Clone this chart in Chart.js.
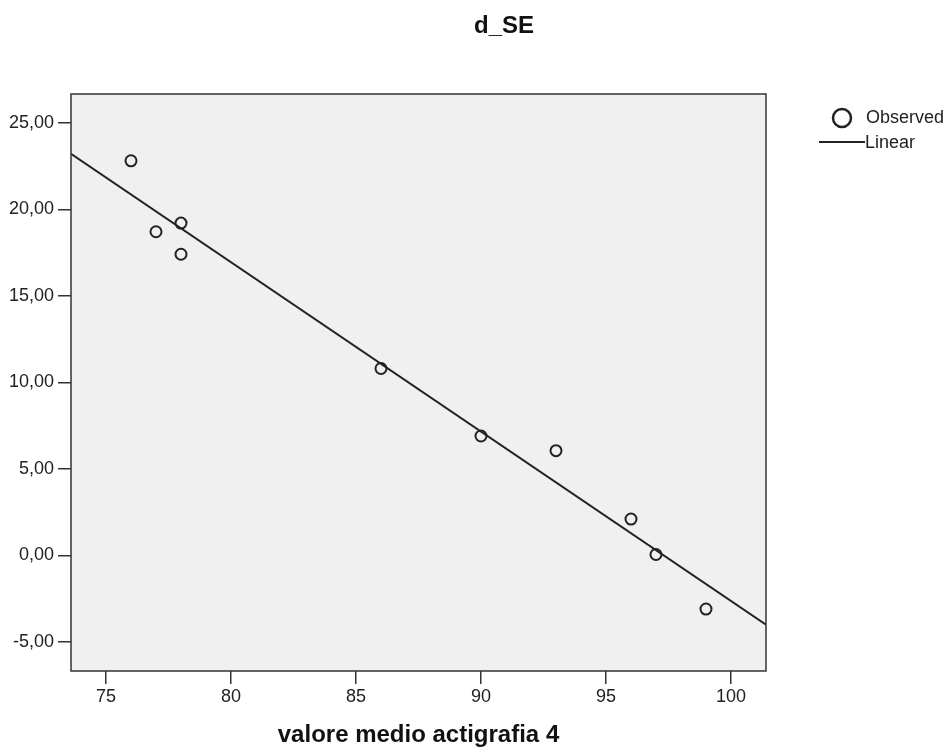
<!DOCTYPE html>
<html>
<head>
<meta charset="utf-8">
<script src="https://cdn.jsdelivr.net/npm/chart.js@4.4.0/dist/chart.umd.min.js"></script>
<style>
html,body{margin:0;padding:0;background:#fff;}
canvas{display:block;}
</style>
</head>
<body>
<canvas id="c" width="950" height="747"></canvas>
<script>
const chartTitle = "d_SE";
const xAxisTitle = "valore medio actigrafia 4";
const legendLabels = ["Observed", "Linear"];
const obsX = [76, 77, 78, 78, 86, 90, 93, 96, 97, 99];
const obsY = [22.8, 18.7, 19.2, 17.4, 10.8, 6.9, 6.05, 2.1, 0.05, -3.1];
const fitX = [73.6, 101.4];
const fitY = [23.2, -4.0];
const xTicks = [75, 80, 85, 90, 95, 100];
const yTicks = [-5, 0, 5, 10, 15, 20, 25];
const xRange = [73.6, 101.4];
const yRange = [-6.68, 26.66];

const FONT = '"Liberation Sans", Arial, sans-serif';
const INK = '#222';

const decor = {
  id: 'decor',
  beforeDraw(chart) {
    const {ctx, chartArea: a} = chart;
    ctx.save();
    ctx.fillStyle = '#f0f0f0';
    ctx.fillRect(a.left, a.top, a.right - a.left, a.bottom - a.top);
    ctx.restore();
  },
  afterDraw(chart) {
    const {ctx, chartArea: a} = chart;
    ctx.save();
    ctx.strokeStyle = '#333';
    ctx.lineWidth = 1.5;
    ctx.strokeRect(a.left, a.top, a.right - a.left, a.bottom - a.top);
    // titles
    ctx.fillStyle = '#111';
    ctx.textAlign = 'center';
    ctx.textBaseline = 'alphabetic';
    ctx.font = 'bold 24px ' + FONT;
    ctx.fillText(chartTitle, 504, 33);
    ctx.fillText(xAxisTitle, (a.left + a.right) / 2, 742);
    // legend
    ctx.font = '18px ' + FONT;
    ctx.textAlign = 'left';
    ctx.textBaseline = 'middle';
    ctx.fillStyle = INK;
    ctx.strokeStyle = INK;
    ctx.lineWidth = 2.5;
    ctx.beginPath();
    ctx.arc(842, 118, 9, 0, Math.PI * 2);
    ctx.stroke();
    ctx.fillText(legendLabels[0], 866, 118);
    ctx.lineWidth = 2;
    ctx.beginPath();
    ctx.moveTo(819, 142);
    ctx.lineTo(865, 142);
    ctx.stroke();
    ctx.fillText(legendLabels[1], 865, 143);
    ctx.restore();
  }
};

new Chart(document.getElementById('c'), {
  type: 'scatter',
  data: {
    datasets: [
      {
        label: legendLabels[0],
        data: obsX.map((x, i) => ({x, y: obsY[i]})),
        pointRadius: 5.5,
        pointBorderWidth: 2,
        borderColor: INK,
        backgroundColor: 'rgba(0,0,0,0)',
        order: 1
      },
      {
        type: 'line',
        label: legendLabels[1],
        data: fitX.map((x, i) => ({x, y: fitY[i]})),
        pointRadius: 0,
        borderColor: INK,
        borderWidth: 2,
        fill: false,
        order: 0
      }
    ]
  },
  options: {
    responsive: false,
    animation: false,
    layout: {padding: {top: 94, right: 184, left: 0, bottom: 0}},
    plugins: {legend: {display: false}, title: {display: false}, tooltip: {enabled: false}},
    scales: {
      x: {
        type: 'linear',
        min: xRange[0], max: xRange[1],
        afterBuildTicks: s => { s.ticks = xTicks.map(v => ({value: v})); },
        afterFit: s => { s.height = 76; },
        grid: {drawOnChartArea: false, drawTicks: true, tickLength: 13, tickColor: '#333', lineWidth: 1.5},
        border: {display: false},
        ticks: {color: INK, font: {family: FONT, size: 18}, padding: 2, callback: v => String(v), maxRotation: 0}
      },
      y: {
        type: 'linear',
        min: yRange[0], max: yRange[1],
        afterBuildTicks: s => { s.ticks = yTicks.map(v => ({value: v})); },
        afterFit: s => { s.width = 71; },
        grid: {drawOnChartArea: false, drawTicks: true, tickLength: 13, tickColor: '#333', lineWidth: 1.5},
        border: {display: false},
        ticks: {color: INK, font: {family: FONT, size: 18}, padding: 4, callback: v => v.toFixed(2).replace('.', ',')}
      }
    }
  },
  plugins: [decor]
});
</script>
</body>
</html>
